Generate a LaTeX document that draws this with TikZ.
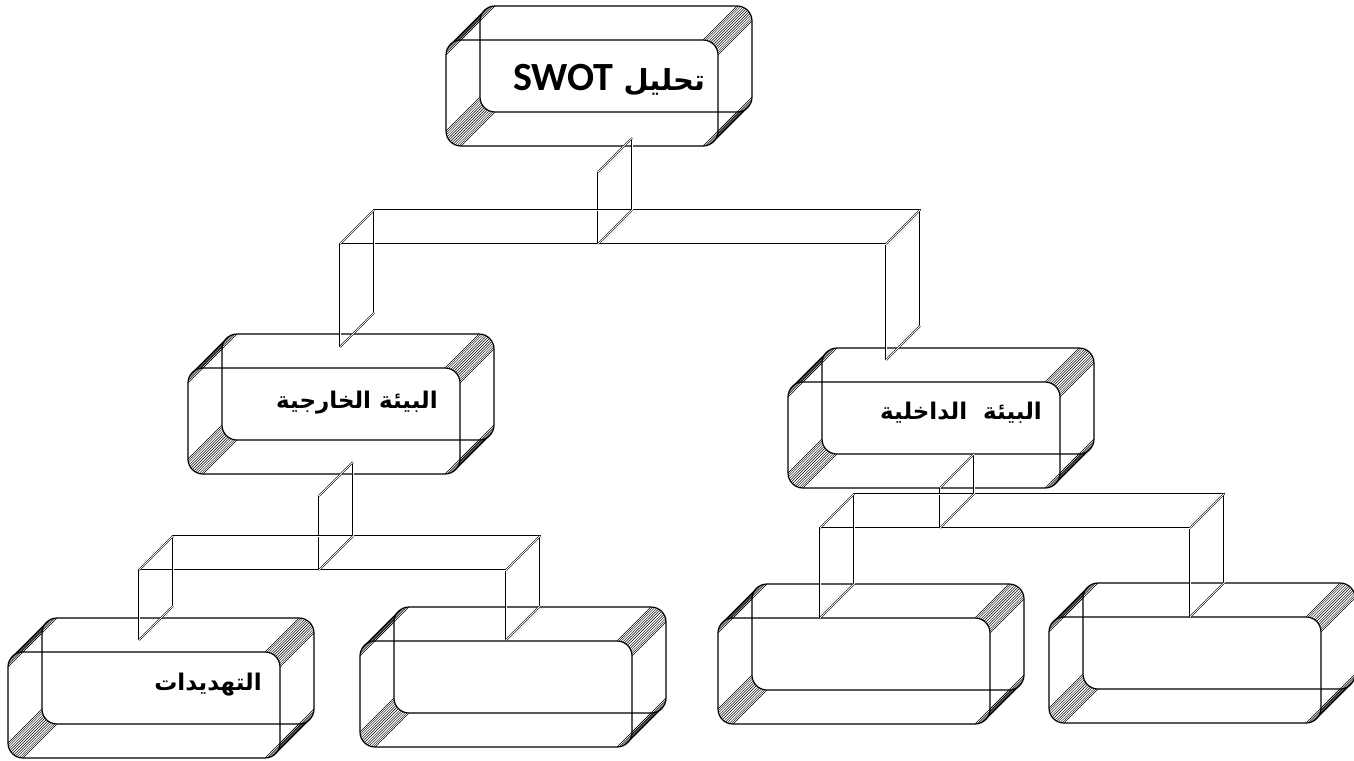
\documentclass[tikz,border=0pt]{standalone}
\usepackage{fontspec}
\usepackage{tikz}
\usetikzlibrary{calc}
\TeXXeTstate=1
\newfontfamily\arabicfont[Script=Arabic]{DejaVu Sans}
\newfontfamily\latinfont{Carlito}

\tikzset{
  boxline/.style={line width=0.6pt},
  hatchline/.style={line width=0.2pt},
  ribbon/.style={line width=0.3pt,double,double distance=0.4pt},
  boxtext/.style={inner sep=0pt,font=\arabicfont\bfseries\fontsize{11.5}{14}\selectfont}
}

% front face top-left at (#1,#2), depth goes up-right
\newcommand{\bevelbox}[2]{%
  \begin{scope}[shift={(#1,#2)}]
    \draw[boxline,rounded corners=7.5pt] (0,0) rectangle (272,106);
    \draw[boxline,rounded corners=7.5pt] (34,-34) rectangle (306,72);
    \foreach \a in {90,97.5,...,180}
      \draw[hatchline] ({15+15*cos(\a)},{15-15*sin(\a)}) -- ++(34,-34);
    \foreach \a in {180,187.5,...,270}
      \draw[hatchline] ({15+15*cos(\a)},{91-15*sin(\a)}) -- ++(34,-34);
    \foreach \a in {0,7.5,...,90}
      \draw[hatchline] ({257+15*cos(\a)},{15-15*sin(\a)}) -- ++(34,-34);
    \foreach \a in {270,277.5,...,360}
      \draw[hatchline] ({257+15*cos(\a)},{91-15*sin(\a)}) -- ++(34,-34);
  \end{scope}}

\begin{document}
\begin{tikzpicture}[x=0.5pt,y=-0.5pt]
  \useasboundingbox (0,0) rectangle (1354,760);

  \bevelbox{446}{40}
  \bevelbox{188}{368}
  \bevelbox{788}{382}
  \bevelbox{8}{652}
  \bevelbox{360}{641}
  \bevelbox{718}{618}
  \bevelbox{1049}{617}

  % connectors
  \foreach \dx/\dy in {0/0,34/-34}
    \draw[ribbon,shift={(\dx,\dy)}] (340,347) -- (340,244) -- (886,244) -- (886,360) (598,172) -- (598,244);
  \foreach \p in {(340,347),(340,244),(886,244),(886,360),(598,172),(598,244)}
    \draw[ribbon] \p -- ++(34,-34);

  \foreach \dx/\dy in {0/0,34/-34}
    \draw[ribbon,shift={(\dx,\dy)}] (139,640) -- (139,570) -- (506,570) -- (506,640) (319,496) -- (319,570);
  \foreach \p in {(139,640),(139,570),(506,570),(506,640),(319,496),(319,570)}
    \draw[ribbon] \p -- ++(34,-34);

  \foreach \dx/\dy in {0/0,34/-34}
    \draw[ribbon,shift={(\dx,\dy)}] (820,618) -- (820,528) -- (1190,528) -- (1190,617) (940,488) -- (940,528);
  \foreach \p in {(820,618),(820,528),(1190,528),(1190,617),(940,488),(940,528)}
    \draw[ribbon] \p -- ++(34,-34);

  \node[boxtext,font=\arabicfont\bfseries\fontsize{14.5}{18}\selectfont] (swot) at (609,80)
    {\beginR تحليل \beginL{\latinfont\bfseries\fontsize{20}{24}\selectfont SWOT}\endL\endR};
  \node[boxtext] (external) at (357,403) {\beginR البيئة الخارجية\endR};
  \node[boxtext] (internal) at (961,413) {\beginR البيئة\ \ الداخلية\endR};
  \node[boxtext] (threats) at (208,685) {\beginR التهديدات\endR};
\end{tikzpicture}
\end{document}
